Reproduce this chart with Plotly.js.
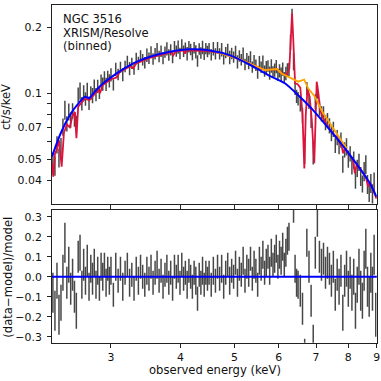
<!DOCTYPE html>
<html>
<head>
<meta charset="utf-8">
<script src="https://cdn.plot.ly/plotly-3.0.1.min.js"></script>
<style>
html, body { margin: 0; padding: 0; background: #fff; }
#chart { width: 381px; height: 381px; }
</style>
</head>
<body>
<div id="chart"></div>
<script>
// binned Resolve spectrum: bin centres (keV), rate (ct/s/keV), relative error, residual vs continuum
var energy = [
  2.36,2.38,2.40,2.42,2.44,2.46,2.48,2.50,2.52,2.54,2.56,2.58,2.60,2.62,2.64,2.66,2.68,2.70,2.72,2.74,2.76,2.78,2.80,2.82,2.84,2.86,2.88,2.90,2.92,2.94,2.96,2.98,
  3.00,3.03,3.06,3.09,3.12,3.15,3.18,3.21,3.24,3.27,3.30,3.33,3.36,3.39,3.42,3.45,3.48,3.51,3.54,3.57,3.60,3.63,3.66,3.69,3.72,3.75,3.78,3.81,3.84,3.87,3.90,3.93,3.96,3.99,4.02,4.05,4.08,4.11,4.14,4.17,4.20,4.23,4.26,4.29,4.32,4.35,4.38,4.41,4.44,4.47,
  4.50,4.54,4.58,4.62,4.66,4.70,4.74,4.78,4.82,4.86,4.90,4.94,4.98,5.02,5.06,5.10,5.14,5.18,5.22,5.26,5.30,5.34,5.38,5.42,5.46,5.50,5.54,5.58,5.62,5.66,5.70,5.74,5.78,5.82,5.86,5.90,5.94,5.98,6.02,6.06,6.10,6.14,6.18,6.22,6.26,6.30,6.34,6.38,6.42,6.46,
  6.50,6.56,6.62,6.68,6.74,6.80,6.86,6.92,6.98,7.04,7.10,7.16,7.22,7.28,7.34,7.40,7.46,7.52,7.58,7.64,7.70,7.76,7.82,7.88,7.94,8.00,8.06,8.12,8.18,8.24,8.30,8.36,8.42,8.48,8.54,8.60,8.66,8.72,8.78,8.84,8.90,8.96
];
var rate = [
  0.0488,0.0467,0.0584,0.0509,0.0574,0.0703,0.0841,0.0727,0.0825,0.0757,0.0835,0.0765,0.0724,0.0985,0.1027,0.0898,0.1009,0.0944,0.1034,0.0903,0.1007,0.0980,0.1081,0.0988,0.1079,0.1003,0.1140,0.1104,0.1188,0.1102,0.1197,0.1143,
  0.1216,0.1095,0.1287,0.1221,0.1316,0.1219,0.1328,0.1400,0.1300,0.1372,0.1293,0.1444,0.1372,0.1484,0.1425,0.1380,0.1495,0.1448,0.1547,0.1437,0.1519,0.1587,0.1475,0.1558,0.1445,0.1544,0.1598,0.1499,0.1582,0.1461,0.1636,0.1561,0.1628,0.1521,0.1666,0.1559,0.1611,0.1519,0.1634,0.1587,0.1507,0.1616,0.1550,0.1407,0.1595,0.1531,0.1623,0.1511,0.1603,0.1555,
  0.1600,0.1500,0.1602,0.1516,0.1616,0.1516,0.1584,0.1439,0.1537,0.1589,0.1461,0.1522,0.1465,0.1554,0.1395,0.1482,0.1426,0.1511,0.1357,0.1441,0.1386,0.1467,0.1319,0.1398,0.1345,0.1241,0.1382,0.1317,0.1391,0.1265,0.1313,0.1335,0.1239,0.1336,0.1255,0.1280,0.1327,0.1212,0.1270,0.1225,0.1293,0.1181,0.1234,0.1283,0.1288,0.1714,0.2276,0.1401,0.1056,0.0971,
  0.0947,0.0897,0.0792,0.0534,0.1053,0.0922,0.0755,0.0537,0.0917,0.1016,0.0859,0.0808,0.0809,0.0737,0.0753,0.0712,0.0656,0.0687,0.0581,0.0630,0.0579,0.0613,0.0476,0.0554,0.0572,0.0503,0.0531,0.0468,0.0498,0.0403,0.0456,0.0486,0.0419,0.0387,0.0441,0.0474,0.0385,0.0354,0.0389,0.0346,0.0395,0.0278
];
var relErr = [
  0.10,0.10,0.09,0.10,0.09,0.09,0.10,0.08,0.09,0.08,0.08,0.08,0.09,0.08,0.09,0.07,0.08,0.07,0.08,0.07,0.07,0.08,0.07,0.07,0.07,0.06,0.07,0.07,0.06,0.07,0.06,0.07,
  0.07,0.06,0.07,0.06,0.06,0.07,0.06,0.06,0.07,0.06,0.06,0.06,0.07,0.06,0.06,0.06,0.07,0.06,0.06,0.06,0.06,0.07,0.06,0.06,0.06,0.06,0.07,0.06,0.06,0.06,0.06,0.06,0.07,0.06,0.06,0.06,0.06,0.07,0.06,0.06,0.06,0.06,0.07,0.06,0.06,0.06,0.07,0.06,0.06,0.06,
  0.06,0.06,0.07,0.06,0.06,0.06,0.07,0.06,0.06,0.06,0.07,0.06,0.06,0.06,0.07,0.06,0.06,0.07,0.06,0.06,0.07,0.06,0.06,0.07,0.06,0.06,0.07,0.06,0.07,0.06,0.07,0.06,0.07,0.07,0.06,0.07,0.07,0.06,0.07,0.07,0.07,0.06,0.07,0.07,0.07,0.08,0.07,0.09,0.07,0.07,
  0.07,0.08,0.08,0.11,0.07,0.08,0.08,0.12,0.08,0.07,0.08,0.08,0.08,0.08,0.08,0.08,0.08,0.08,0.08,0.08,0.09,0.08,0.09,0.08,0.09,0.09,0.08,0.09,0.09,0.09,0.09,0.09,0.10,0.09,0.10,0.10,0.10,0.10,0.10,0.11,0.10,0.11
];
var resid = [
  -0.08,-0.17,-0.02,-0.19,-0.13,0.02,0.17,-0.03,0.06,-0.06,0.01,-0.10,-0.17,0.10,0.12,-0.04,0.06,-0.02,0.08,-0.05,0.04,-0.01,0.07,-0.04,0.03,-0.06,0.05,0.00,0.06,-0.03,0.04,-0.02,
  0.03,-0.09,0.05,-0.02,0.04,-0.05,0.02,0.06,-0.03,0.01,-0.06,0.04,-0.02,0.05,0.00,-0.04,0.03,-0.01,0.05,-0.03,0.02,0.06,-0.02,0.03,-0.05,0.01,0.04,-0.03,0.02,-0.06,0.05,0.00,0.04,-0.03,0.06,-0.01,0.02,-0.04,0.03,0.00,-0.05,0.02,-0.02,-0.11,0.01,-0.03,0.03,-0.04,0.02,-0.01,
  0.02,-0.04,0.03,-0.02,0.05,-0.01,0.04,-0.05,0.02,0.06,-0.02,0.03,0.00,0.07,-0.03,0.04,0.01,0.08,-0.02,0.05,0.02,0.09,-0.01,0.06,0.03,-0.04,0.08,0.04,0.11,0.02,0.07,0.10,0.03,0.12,0.06,0.09,0.14,0.05,0.11,0.08,0.15,0.06,0.12,0.18,0.20,0.62,1.18,0.36,0.04,-0.03,
  -0.04,-0.07,-0.16,-0.42,0.17,0.05,-0.12,-0.36,0.12,0.27,0.10,0.06,0.09,0.02,0.07,0.04,-0.02,0.05,-0.09,0.01,-0.05,0.03,-0.18,-0.02,0.04,-0.06,0.02,-0.08,0.00,-0.17,-0.04,0.05,-0.07,-0.12,0.03,0.14,-0.05,-0.10,0.02,-0.06,0.11,-0.19
];

// continuum model (blue)
var contE    = [2.350,2.430,2.532,2.639,2.695,2.743,2.789,2.906,3.071,3.290,3.524,3.827,4.158,4.515,4.904,5.327,5.745,6.154,6.825,7.414,8.050,8.745,8.989];
var contRate = [0.0513,0.0645,0.0796,0.0916,0.0965,0.0949,0.1000,0.1110,0.1234,0.1371,0.1469,0.1549,0.1588,0.1568,0.1490,0.1350,0.1212,0.1111,0.0869,0.0680,0.0523,0.0388,0.0337];

// model with Fe K emission (orange)
var feE    = [4.600,4.706,5.111,5.666,5.956,6.073,6.503,6.666,6.777,6.967,7.172,7.619,7.941];
var feRate = [0.1559,0.1532,0.1430,0.1277,0.1291,0.1232,0.1130,0.1156,0.1054,0.0965,0.0830,0.0657,0.0561];

// full model with absorption lines (red)
var absE = [2.350,2.364,2.380,2.397,2.420,2.447,2.470,2.500,2.530,2.560,2.585,2.601,2.620,2.660,2.695,2.743,2.789,2.850,2.867,2.900,
  3.000,3.071,3.110,3.250,3.290,3.330,3.520,3.700,3.850,3.880,3.920,4.050,4.070,4.100,4.300,4.500,4.706,5.111,5.666,5.956,6.073,
  6.200,6.270,6.310,6.340,6.370,6.420,6.490,6.560,6.620,6.670,6.710,6.760,6.820,6.880,6.950,6.990,7.020,7.070,7.120,7.210,
  7.414,7.620,7.780,7.830,7.880,8.150,8.220,8.280,8.600,8.680,8.750,8.989];
var absRate = [0.0481,0.0416,0.0530,0.0551,0.0610,0.0462,0.0660,0.0720,0.0700,0.0790,0.0820,0.0623,0.0870,0.0915,0.0945,0.0930,0.0980,0.1040,0.1000,0.1090,
  0.1160,0.1180,0.1250,0.1330,0.1300,0.1370,0.1450,0.1500,0.1540,0.1490,0.1550,0.1570,0.1520,0.1570,0.1570,0.1560,0.1530,0.1430,0.1277,0.1291,0.1232,
  0.1210,0.1300,0.1900,0.2320,0.1800,0.1110,0.1100,0.1060,0.0800,0.0454,0.0800,0.1050,0.0960,0.0750,0.0480,0.0900,0.1130,0.1000,0.0840,0.0770,
  0.0680,0.0630,0.0575,0.0532,0.0560,0.0500,0.0431,0.0475,0.0415,0.0375,0.0392,0.0330];

// zero line of the residual panel
var zeroE = [2.30, 9.10];
var zeroR = [0, 0];

// ticks
var xTicks = [3, 4, 5, 6, 7, 8, 9];
var xTickText = ['3', '4', '5', '6', '7', '8', '9'];
var yTicksTop = [0.04, 0.05, 0.06, 0.07, 0.08, 0.09, 0.1, 0.2];
var yTickTextTop = ['0.04', '0.05', '', '0.07', '', '', '0.1', '0.2'];
var yTicksRes = [-0.3, -0.2, -0.1, 0, 0.1, 0.2, 0.3];
var yTickTextRes = ['\u22120.3', '\u22120.2', '\u22120.1', '0.0', '0.1', '0.2', '0.3'];

var infoLines = ['NGC 3516', 'XRISM/Resolve', '(binned)'];

var rateErr = rate.map((v, i) => v * relErr[i]);

var W = 381, H = 381;
var xDom = [52 / W, 376.8 / W];
var topDom = [1 - 203.5 / H, 1 - 5 / H];
var botDom = [1 - 342.8 / H, 1 - 210 / H];
var axCol = '#222';
var fnt = 'DejaVu Sans';
var tickFs = 10.9, labFs = 11.6;
var barCol = 'rgba(0,0,0,0.72)';

var data = [
  { x: energy, y: rate, type: 'scatter', mode: 'markers', xaxis: 'x', yaxis: 'y',
    marker: { size: 1, color: 'rgba(0,0,0,0)' },
    error_y: { type: 'data', array: rateErr, visible: true, color: barCol, thickness: 1.5, width: 0 } },
  { x: absE, y: absRate, type: 'scatter', mode: 'lines', xaxis: 'x', yaxis: 'y',
    line: { color: '#dc143c', width: 1.8 } },
  { x: feE, y: feRate, type: 'scatter', mode: 'lines', xaxis: 'x', yaxis: 'y',
    line: { color: '#ffa500', width: 1.8 } },
  { x: contE, y: contRate, type: 'scatter', mode: 'lines', xaxis: 'x', yaxis: 'y',
    line: { color: '#0000ff', width: 2, shape: 'spline', smoothing: 0.6 } },
  { x: energy, y: resid, type: 'scatter', mode: 'markers', xaxis: 'x2', yaxis: 'y2',
    marker: { size: 1, color: 'rgba(0,0,0,0)' },
    error_y: { type: 'data', array: relErr, visible: true, color: barCol, thickness: 1.5, width: 0 } },
  { x: zeroE, y: zeroR, type: 'scatter', mode: 'lines', xaxis: 'x2', yaxis: 'y2',
    line: { color: '#0000ff', width: 2 } }
];

var axisBase = {
  showline: true, linecolor: axCol, linewidth: 1, mirror: true,
  ticks: 'outside', ticklen: 4, tickwidth: 1, tickcolor: axCol,
  showgrid: false, zeroline: false, tickfont: { family: fnt, size: tickFs, color: '#111' }
};

var annots = infoLines.map((t, i) => ({
  text: t, xref: 'paper', yref: 'paper', x: 61 / W, y: 1 - (19.3 + 13.4 * i) / H,
  xanchor: 'left', yanchor: 'middle', align: 'left', showarrow: false,
  font: { family: fnt, size: labFs, color: '#111' }
}));
annots.push(
  { text: 'ct/s/keV', xref: 'paper', yref: 'paper', x: 5.4 / W, y: 1 - 106.7 / H,
    xanchor: 'center', yanchor: 'middle', textangle: -90, showarrow: false,
    font: { family: fnt, size: labFs, color: '#111' } },
  { text: '(data\u2212model)/model', xref: 'paper', yref: 'paper', x: 7.2 / W, y: 1 - 277.5 / H,
    xanchor: 'center', yanchor: 'middle', textangle: -90, showarrow: false,
    font: { family: fnt, size: labFs, color: '#111' } },
  { text: 'observed energy (keV)', xref: 'paper', yref: 'paper', x: 214.5 / W, y: 1 - 369.5 / H,
    xanchor: 'center', yanchor: 'middle', showarrow: false,
    font: { family: fnt, size: labFs, color: '#111' } }
);

var layout = {
  width: W, height: H,
  margin: { l: 0, r: 0, t: 0, b: 0 },
  paper_bgcolor: '#fff', plot_bgcolor: '#fff',
  showlegend: false,
  font: { family: fnt, size: tickFs, color: '#111' },
  xaxis: Object.assign({}, axisBase, { type: 'log', domain: xDom, range: [0.3713, 0.9542], anchor: 'y',
    tickvals: xTicks, ticktext: xTickText, showticklabels: false }),
  yaxis: Object.assign({}, axisBase, { type: 'log', domain: topDom, range: [-1.5032, -0.5968], anchor: 'x',
    tickvals: yTicksTop, ticktext: yTickTextTop, ticklabelstandoff: 3 }),
  xaxis2: Object.assign({}, axisBase, { type: 'log', domain: xDom, range: [0.3713, 0.9542], anchor: 'y2',
    tickvals: xTicks, ticktext: xTickText }),
  yaxis2: Object.assign({}, axisBase, { domain: botDom, range: [-0.3305, 0.3335], anchor: 'x2',
    tickvals: yTicksRes, ticktext: yTickTextRes, ticklabelstandoff: 3 }),
  annotations: annots
};

Plotly.newPlot('chart', data, layout, { staticPlot: true, displayModeBar: false });
</script>
</body>
</html>
